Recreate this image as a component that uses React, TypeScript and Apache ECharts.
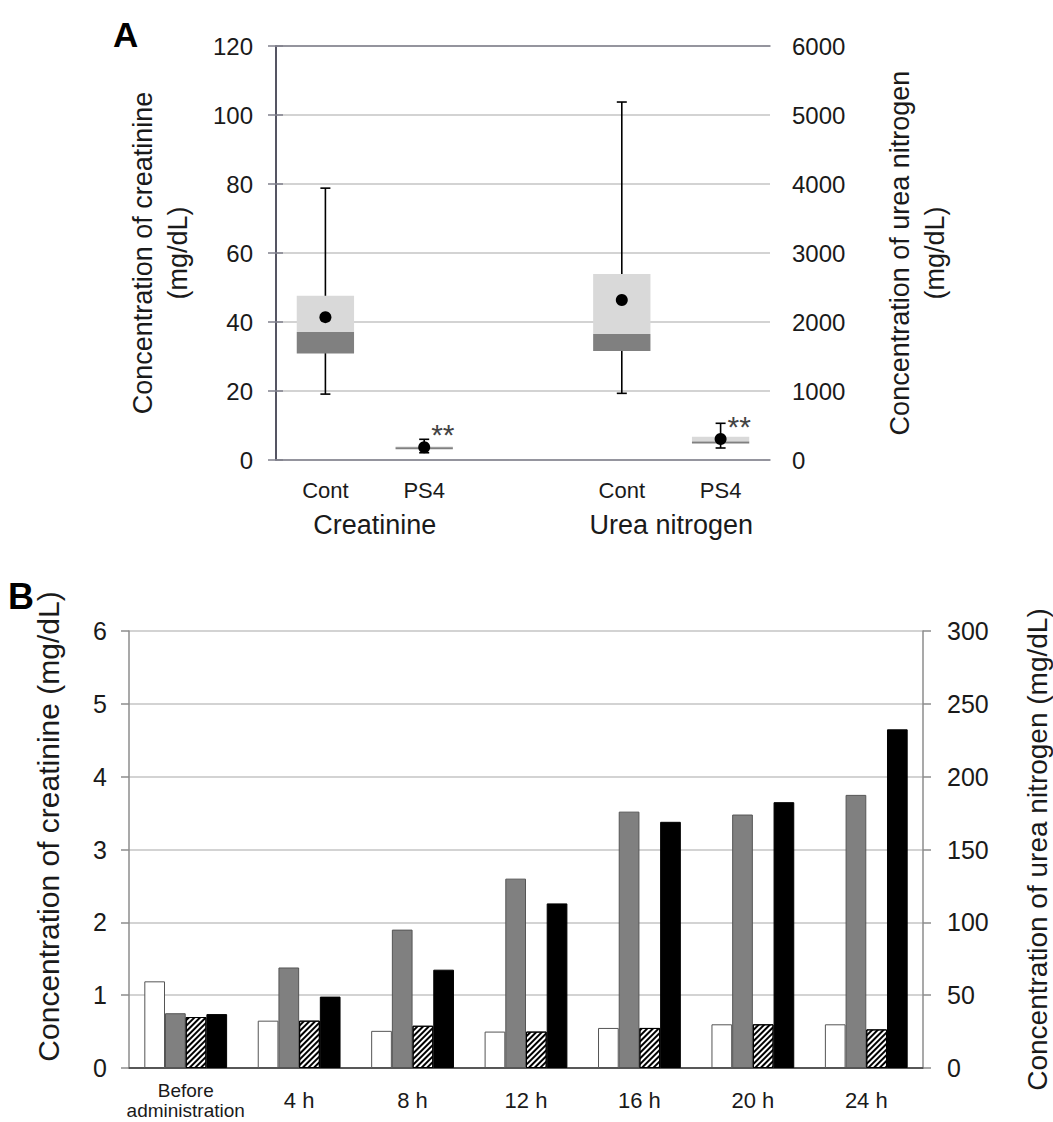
import React, { useEffect, useRef } from 'react';
import * as echarts from 'echarts';

// ---------- Panel A data ----------
const boxCategories = ['Cont', 'PS4', '', 'Cont', 'PS4'];
const groupLabels = ['Creatinine', 'Urea nitrogen'];
const groupLabelPositions = [1, 4];

const creatinineIndex = [0, 1];
const creatinineMin = [19.1, 2.1];
const creatinineQ1 = [30.9, 3.2];
const creatinineMedian = [37.1, 3.7];
const creatinineQ3 = [47.6, 3.9];
const creatinineMax = [78.8, 6.0];
const creatinineMean = [41.4, 3.7];
const creatinineSig = ['', '**'];

const ureaIndex = [3, 4];
const ureaMin = [966, 174];
const ureaQ1 = [1580, 245];
const ureaMedian = [1826, 268];
const ureaQ3 = [2696, 338];
const ureaMax = [5188, 532];
const ureaMean = [2319, 304];
const ureaSig = ['', '**'];

const creatinineTicksA = { min: 0, max: 120, interval: 20 };
const ureaTicksA = { min: 0, max: 6000, interval: 1000 };

// ---------- Panel B data ----------
const timeCategories = ['Before\nadministration', '4 h', '8 h', '12 h', '16 h', '20 h', '24 h'];
const creatinineWhite = [1.19, 0.65, 0.51, 0.5, 0.55, 0.6, 0.6];
const ureaGray = [37.6, 69, 95, 130, 176, 174, 187.5];
const creatinineHatched = [0.7, 0.65, 0.58, 0.5, 0.55, 0.6, 0.53];
const ureaBlack = [37, 49, 67.5, 113, 169, 182.5, 232.5];

const creatinineTicksB = { min: 0, max: 6, interval: 1 };
const ureaTicksB = { min: 0, max: 300, interval: 50 };

const FONT = 'Liberation Sans, Arial, Helvetica, sans-serif';
const TXT = '#1a1a1a';

function makeBoxRender(sig: string[]) {
  return function (params: any, api: any) {
    const x = api.value(0);
    const pMin = api.coord([x, api.value(1)]);
    const pQ1 = api.coord([x, api.value(2)]);
    const pMed = api.coord([x, api.value(3)]);
    const pQ3 = api.coord([x, api.value(4)]);
    const pMax = api.coord([x, api.value(5)]);
    const pMean = api.coord([x, api.value(6)]);
    const bw = api.size([1, 0])[0] * 0.58;
    const cx = pMin[0];
    const cap = 5;
    const ls = { stroke: '#000', lineWidth: 1.6 };
    const children: any[] = [
      { type: 'line', shape: { x1: cx, y1: pMax[1], x2: cx, y2: pMin[1] }, style: ls },
      { type: 'line', shape: { x1: cx - cap, y1: pMax[1], x2: cx + cap, y2: pMax[1] }, style: ls },
      { type: 'line', shape: { x1: cx - cap, y1: pMin[1], x2: cx + cap, y2: pMin[1] }, style: ls },
      {
        type: 'rect',
        shape: { x: cx - bw / 2, y: pQ3[1], width: bw, height: pMed[1] - pQ3[1] },
        style: { fill: '#d9d9d9' },
      },
      {
        type: 'rect',
        shape: { x: cx - bw / 2, y: pMed[1], width: bw, height: Math.max(pQ1[1] - pMed[1], 2) },
        style: { fill: '#808080' },
      },
      { type: 'circle', shape: { cx, cy: pMean[1], r: 6 }, style: { fill: '#000' } },
    ];
    const s = sig[params.dataIndex];
    if (s) {
      children.push({
        type: 'text',
        x: cx + 7,
        y: pMean[1] - 13,
        style: {
          text: s,
          fontSize: 30,
          fontFamily: FONT,
          fill: '#444',
          align: 'left',
          verticalAlign: 'middle',
        },
      });
    }
    return { type: 'group', children };
  };
}

function buildRows(idx: number[], mn: number[], q1: number[], md: number[], q3: number[], mx: number[], mean: number[]) {
  return idx.map((c, i) => [c, mn[i], q1[i], md[i], q3[i], mx[i], mean[i]]);
}

export default function App() {
  const ref = useRef<HTMLDivElement>(null);

  useEffect(() => {
    if (!ref.current) return;
    const chart = echarts.init(ref.current, undefined, { renderer: 'svg' });

    const axisGrayA = '#80808c';
    const gridGray = '#c4c4c4';
    const axisGrayB = '#8c8c8c';
    const plain = (v: number) => String(v);

    const timeData = timeCategories.map((c) =>
      c.indexOf('\n') >= 0
        ? { value: c, textStyle: { fontSize: 19, lineHeight: 20, verticalAlign: 'middle', color: TXT } }
        : c
    );

    const option: any = {
      animation: false,
      backgroundColor: '#fff',
      textStyle: { fontFamily: FONT, color: TXT },
      title: [
        { text: 'A', left: 108, top: 12, textStyle: { fontSize: 35, fontWeight: 'bold', color: '#000', fontFamily: FONT } },
        { text: 'B', left: 3, top: 573, textStyle: { fontSize: 36, fontWeight: 'bold', color: '#000', fontFamily: FONT } },
      ],
      grid: [
        { left: 276, top: 46, width: 494, height: 414, containLabel: false, outerBoundsMode: 'none' },
        { left: 129, top: 631, width: 794, height: 437, containLabel: false, outerBoundsMode: 'none' },
      ],
      xAxis: [
        {
          gridIndex: 0,
          type: 'category',
          data: boxCategories,
          position: 'bottom',
          axisLine: { lineStyle: { color: axisGrayA, width: 1.5 } },
          axisTick: { length: 8, lineStyle: { color: axisGrayA, width: 1.5 } },
          axisLabel: { fontSize: 22, color: TXT, margin: 30, verticalAlign: 'middle', interval: 0 },
          splitLine: { show: false },
        },
        {
          gridIndex: 0,
          type: 'value',
          min: 0,
          max: 5,
          interval: 1,
          position: 'bottom',
          axisLine: { show: false },
          axisTick: { show: false },
          splitLine: { show: false },
          axisLabel: {
            fontSize: 27,
            color: TXT,
            margin: 65,
            verticalAlign: 'middle',
            formatter: (v: number) => {
              const i = groupLabelPositions.indexOf(v);
              return i >= 0 ? groupLabels[i] : '';
            },
          },
        },
        {
          gridIndex: 0,
          type: 'value',
          min: 0,
          max: 1,
          position: 'top',
          axisLine: { show: true, lineStyle: { color: axisGrayA, width: 1.5 } },
          axisTick: { show: false },
          axisLabel: { show: false },
          splitLine: { show: false },
        },
        {
          gridIndex: 1,
          type: 'category',
          data: timeData,
          position: 'bottom',
          axisLine: { lineStyle: { color: axisGrayB, width: 1.5 } },
          axisTick: { length: 8, lineStyle: { color: axisGrayB, width: 1.5 } },
          axisLabel: { fontSize: 22, lineHeight: 22, color: TXT, margin: 32, verticalAlign: 'middle', interval: 0 },
          splitLine: { show: false },
        },
        {
          gridIndex: 1,
          type: 'value',
          min: 0,
          max: 1,
          position: 'top',
          axisLine: { show: true, lineStyle: { color: '#404040', width: 1.6 } },
          axisTick: { show: false },
          axisLabel: { show: false },
          splitLine: { show: false },
        },
      ],
      yAxis: [
        {
          gridIndex: 0,
          type: 'value',
          position: 'left',
          ...creatinineTicksA,
          name: 'Concentration of creatinine\n(mg/dL)',
          nameLocation: 'middle',
          nameGap: 81,
          nameTextStyle: { fontSize: 27, lineHeight: 35, color: TXT },
          axisLine: { show: true, lineStyle: { color: axisGrayA, width: 1.5 } },
          axisTick: { show: true, length: 8, lineStyle: { color: axisGrayA, width: 1.5 } },
          axisLabel: { fontSize: 24, color: TXT, margin: 23, formatter: plain },
          splitLine: { show: true, lineStyle: { color: gridGray, width: 1.5 } },
        },
        {
          gridIndex: 0,
          type: 'value',
          position: 'right',
          ...ureaTicksA,
          name: 'Concentration of urea nitrogen\n(mg/dL)',
          nameLocation: 'middle',
          nameGap: 112,
          nameTextStyle: { fontSize: 27, lineHeight: 35, color: TXT },
          axisLine: { show: true, lineStyle: { color: '#3c3c4c', width: 1.5 } },
          axisTick: { show: true, length: 7, lineStyle: { color: axisGrayA, width: 1.5 } },
          axisLabel: { fontSize: 24, color: TXT, margin: 22, formatter: plain },
          splitLine: { show: false },
        },
        {
          gridIndex: 1,
          type: 'value',
          position: 'left',
          ...creatinineTicksB,
          name: 'Concentration of creatinine (mg/dL)',
          nameLocation: 'middle',
          nameGap: 64,
          nameTextStyle: { fontSize: 30, lineHeight: 34, color: TXT, padding: [0, 0, 0, 46] },
          axisLine: { show: true, lineStyle: { color: axisGrayB, width: 1.5 } },
          axisTick: { show: true, length: 8, lineStyle: { color: axisGrayB, width: 1.5 } },
          axisLabel: { fontSize: 25, color: TXT, margin: 22, formatter: plain },
          splitLine: { show: true, lineStyle: { color: gridGray, width: 1.5 } },
        },
        {
          gridIndex: 1,
          type: 'value',
          position: 'right',
          ...ureaTicksB,
          name: 'Concentration of urea nitrogen (mg/dL)',
          nameLocation: 'middle',
          nameGap: 97,
          nameTextStyle: { fontSize: 28, lineHeight: 34, color: TXT },
          axisLine: { show: true, lineStyle: { color: axisGrayB, width: 1.5 } },
          axisTick: { show: true, length: 8, lineStyle: { color: axisGrayB, width: 1.5 } },
          axisLabel: { fontSize: 25, color: TXT, margin: 24, formatter: plain },
          splitLine: { show: false },
        },
      ],
      series: [
        {
          name: 'Creatinine',
          type: 'custom',
          xAxisIndex: 0,
          yAxisIndex: 0,
          renderItem: makeBoxRender(creatinineSig),
          encode: { x: 0, y: [1, 2, 3, 4, 5, 6] },
          data: buildRows(creatinineIndex, creatinineMin, creatinineQ1, creatinineMedian, creatinineQ3, creatinineMax, creatinineMean),
          z: 3,
        },
        {
          name: 'Urea nitrogen',
          type: 'custom',
          xAxisIndex: 0,
          yAxisIndex: 1,
          renderItem: makeBoxRender(ureaSig),
          encode: { x: 0, y: [1, 2, 3, 4, 5, 6] },
          data: buildRows(ureaIndex, ureaMin, ureaQ1, ureaMedian, ureaQ3, ureaMax, ureaMean),
          z: 3,
        },
        {
          name: 'Creatinine 1',
          type: 'bar',
          xAxisIndex: 3,
          yAxisIndex: 2,
          data: creatinineWhite,
          barGap: '0%',
          barCategoryGap: '27%',
          itemStyle: { color: '#ffffff', borderColor: '#555', borderWidth: 1 },
        },
        {
          name: 'Urea nitrogen 1',
          type: 'bar',
          xAxisIndex: 3,
          yAxisIndex: 3,
          data: ureaGray,
          barGap: '0%',
          barCategoryGap: '27%',
          itemStyle: { color: '#808080', borderColor: '#555', borderWidth: 1 },
        },
        {
          name: 'Creatinine 2',
          type: 'bar',
          xAxisIndex: 3,
          yAxisIndex: 2,
          data: creatinineHatched,
          barGap: '0%',
          barCategoryGap: '27%',
          itemStyle: {
            color: '#ffffff',
            borderColor: '#000',
            borderWidth: 1,
            decal: {
              symbol: 'rect',
              symbolSize: 1,
              color: '#000',
              backgroundColor: '#fff',
              dashArrayX: [10, 0],
              dashArrayY: [2, 2],
              rotation: -Math.PI / 4,
            },
          },
        },
        {
          name: 'Urea nitrogen 2',
          type: 'bar',
          xAxisIndex: 3,
          yAxisIndex: 3,
          data: ureaBlack,
          barGap: '0%',
          barCategoryGap: '27%',
          itemStyle: { color: '#000', borderColor: '#000', borderWidth: 1 },
        },
      ],
    };

    chart.setOption(option);
    return () => chart.dispose();
  }, []);

  return (
    <div
      ref={ref}
      style={{ position: 'absolute', left: 0, top: 0, width: 1053, height: 1122, background: '#fff' }}
    />
  );
}
